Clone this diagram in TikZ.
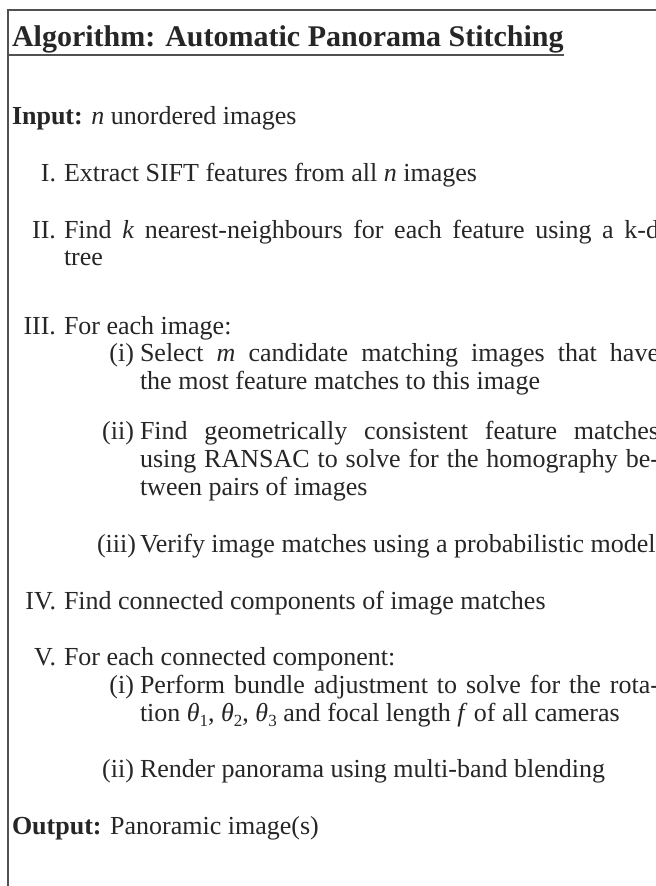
\documentclass[tikz,border=0pt]{standalone}
\usepackage{fontspec}
\setmainfont{Liberation Serif}
\definecolor{ink}{HTML}{262626}
\newcommand\bodyfont{\fontsize{26bp}{28bp}\selectfont}
\newcommand\titlefont{\fontsize{30bp}{32bp}\selectfont\bfseries}
\newcommand\sbs[1]{\raisebox{-0.22em}{\fontsize{17bp}{17bp}\selectfont #1}}
\newcommand\jmain[1]{\makebox[595bp][s]{#1}}
\newcommand\jsub[1]{\makebox[519bp][s]{#1}}
\begin{document}
\begin{tikzpicture}[x=1bp,y=-1bp,
  txt/.style={inner sep=0pt, outer sep=0pt, anchor=base west, font=\bodyfont, text=ink},
  lbl/.style={inner sep=0pt, outer sep=0pt, anchor=base east, font=\bodyfont, text=ink},
  rule/.style={draw=ink!80, line width=1.5bp}]
\useasboundingbox[fill=white] (0,0) rectangle (656,886);
\coordinate (tl) at (8,10);
\coordinate (tr) at (656,10);
\coordinate (bl) at (8,886);
\draw[rule] (tr) -- (tl) -- (bl);
\node[txt, font=\titlefont] (title) at (12,46) {Algorithm: Automatic Panorama Stitching};
\coordinate (ul) at (8,55);
\draw[rule] (ul) -- (ul -| title.east);

\node[txt] (input) at (12,124) {\textbf{Input:} \textit{n} unordered images};

\node[lbl] (l1) at (56,181) {I.};
\node[txt] (t1) at (64,181) {Extract SIFT features from all \textit{n} images};

\node[lbl] (l2) at (56,238) {II.};
\node[txt] (t2a) at (64,238) {\jmain{Find \textit{k} nearest-neighbours for each feature using a k-d}};
\node[txt] (t2b) at (64,265) {tree};

\node[lbl] (l3) at (56,334) {III.};
\node[txt] (t3) at (64,334) {For each image:};

\node[lbl] (s31) at (134,361) {(i)};
\node[txt] (t31a) at (140,361) {\jsub{Select \textit{m} candidate matching images that have}};
\node[txt] (t31b) at (140,389) {the most feature matches to this image};

\node[lbl] (s32) at (134,439) {(ii)};
\node[txt] (t32a) at (140,439) {\jsub{Find geometrically consistent feature matches}};
\node[txt] (t32b) at (140,467) {\jsub{using RANSAC to solve for the homography be-}};
\node[txt] (t32c) at (140,495) {tween pairs of images};

\node[lbl] (s33) at (136,552) {(iii)};
\node[txt] (t33) at (140,552) {Verify image matches using a probabilistic model};

\node[lbl] (l4) at (56,609) {IV.};
\node[txt] (t4) at (64,609) {Find connected components of image matches};

\node[lbl] (l5) at (56,665) {V.};
\node[txt] (t5) at (64,665) {For each connected component:};

\node[lbl] (s51) at (134,693) {(i)};
\node[txt] (t51a) at (140,693) {\jsub{Perform bundle adjustment to solve for the rota-}};
\node[txt] (t51b) at (140,721) {tion \textit{θ}\sbs{1}, \textit{θ}\sbs{2}, \textit{θ}\sbs{3} and focal length \textit{f} of all cameras};

\node[lbl] (s52) at (134,777) {(ii)};
\node[txt] (t52) at (140,777) {Render panorama using multi-band blending};

\node[txt] (output) at (12,834) {\textbf{Output:} Panoramic image(s)};
\end{tikzpicture}
\end{document}
